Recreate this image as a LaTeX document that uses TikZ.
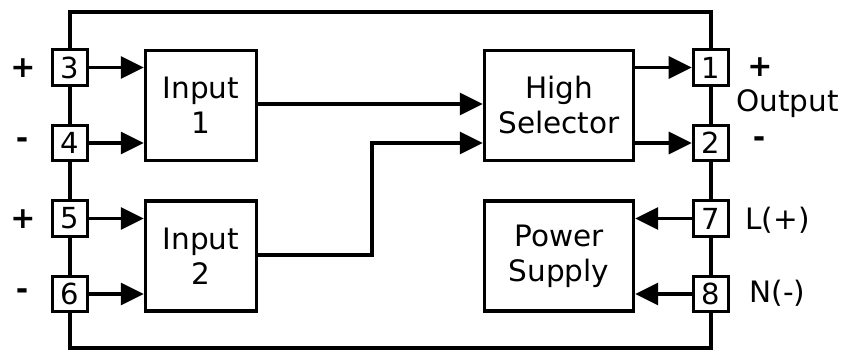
\documentclass[tikz,border=0pt]{standalone}
\usepackage{fontspec}
\setmainfont{DejaVu Sans}
\usetikzlibrary{arrows.meta}
\begin{document}
\begin{tikzpicture}[x=1pt,y=1pt,
  blk/.style={draw, line width=3.4pt, fill=white, align=center, inner sep=0pt,
    font=\fontsize{29.5}{35}\selectfont},
  term/.style={draw, line width=3.2pt, fill=white, minimum size=35.5pt, inner sep=0pt,
    font=\fontsize{29}{35}\selectfont},
  conn/.style={line width=3.2pt, -{Triangle[length=23pt,width=22pt]}},
  wire/.style={line width=3.2pt},
  lbl/.style={inner sep=0pt, font=\fontsize{29.5}{35}\selectfont},
  sgn/.style={inner sep=0pt, font=\fontsize{30}{35}\selectfont\bfseries}]
\useasboundingbox (0,0) rectangle (841,350);
% frame
\draw[wire] (70,2) rectangle (711,338);
% blocks
\node[blk, minimum width=111pt, minimum height=110pt] (in1) at (201,244.5) {Input\\1};
\node[blk, minimum width=111pt, minimum height=110pt] (in2) at (201,94) {Input\\2};
\node[blk, minimum width=149pt, minimum height=110pt] (hs) at (559,244.5) {High\\Selector};
\node[blk, minimum width=149pt, minimum height=110pt] (ps) at (559,94) {Power\\Supply};
% terminals
\node[term] (t3) at (70,282.5) {3};
\node[term] (t4) at (70,207) {4};
\node[term] (t5) at (70,131.5) {5};
\node[term] (t6) at (70,56) {6};
\node[term] (t1) at (711,282.5) {1};
\node[term] (t2) at (711,207) {2};
\node[term] (t7) at (711,131.5) {7};
\node[term] (t8) at (711,56) {8};
% labels
\node[sgn] (s3) at (23,282) {+};
\node[sgn] (s4) at (22,207) {-};
\node[sgn] (s5) at (23,131) {+};
\node[sgn] (s6) at (22,56) {-};
\node[sgn] (s1) at (760,283) {+};
\node[sgn] (s2) at (759,208) {-};
\node[lbl] (out) at (787.5,246) {Output};
\node[lbl] (lp) at (777.5,130) {L(+)};
\node[lbl] (nm) at (777.5,57) {N(-)};
% connectors
\draw[conn] (t3) -- (t3 -| in1.west);
\draw[conn] (t4) -- (t4 -| in1.west);
\draw[conn] (t5) -- (t5 -| in2.west);
\draw[conn] (t6) -- (t6 -| in2.west);
\coordinate (a1) at (in1.east |- 0,246);
\draw[conn] (a1) -- (a1 -| hs.west);
\coordinate (a2) at (in2.east |- 0,95);
\coordinate (b2) at (372,95);
\coordinate (c2) at (372,207);
\draw[conn] (a2) -- (b2) -- (c2) -- (c2 -| hs.west);
\draw[conn] (hs.east |- t1) -- (t1);
\draw[conn] (hs.east |- t2) -- (t2);
\draw[conn] (t7) -- (t7 -| ps.east);
\draw[conn] (t8) -- (t8 -| ps.east);
\end{tikzpicture}
\end{document}
